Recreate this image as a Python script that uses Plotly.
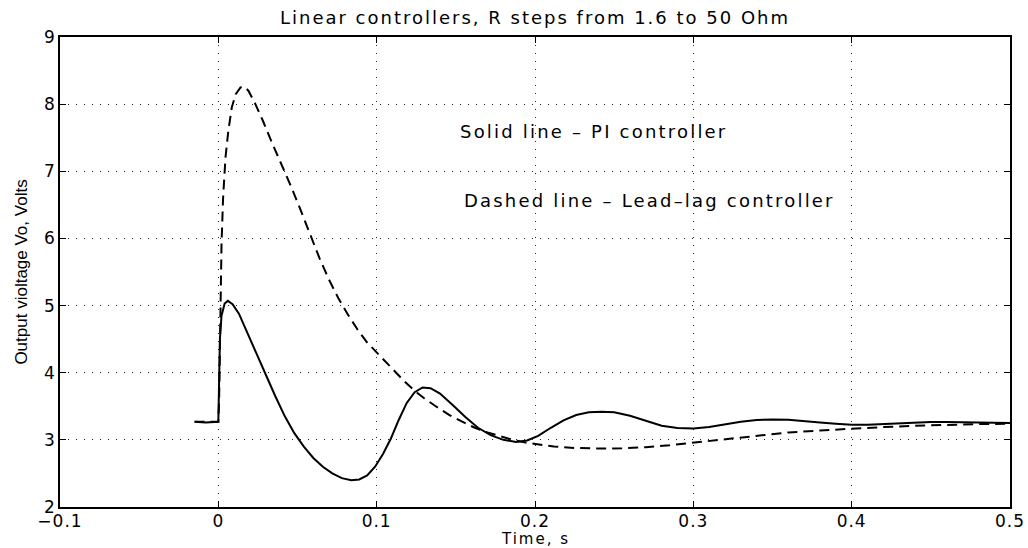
import plotly.graph_objects as go

# Solid line - PI controller
t_pi = [-0.015, -0.008, 0.0, 0.0005, 0.001, 0.002, 0.004, 0.006, 0.009, 0.013,
        0.018, 0.024, 0.030, 0.036, 0.042, 0.048, 0.054, 0.060, 0.066, 0.072,
        0.078, 0.084, 0.089, 0.094, 0.099, 0.104, 0.109, 0.114, 0.119, 0.124,
        0.129, 0.134, 0.140, 0.148, 0.156, 0.164, 0.172, 0.180, 0.188, 0.195,
        0.202, 0.210, 0.218, 0.226, 0.234, 0.242, 0.250, 0.260, 0.270, 0.280,
        0.290, 0.300, 0.310, 0.320, 0.330, 0.340, 0.350, 0.360, 0.370, 0.380,
        0.390, 0.400, 0.410, 0.420, 0.430, 0.440, 0.450, 0.460, 0.470, 0.480,
        0.490, 0.500]
v_pi = [3.27, 3.26, 3.27, 3.9, 4.5, 4.85, 5.03, 5.07, 5.02, 4.88,
        4.62, 4.30, 3.97, 3.65, 3.35, 3.10, 2.90, 2.73, 2.60, 2.50,
        2.43, 2.40, 2.41, 2.47, 2.60, 2.79, 3.02, 3.30, 3.55, 3.71,
        3.78, 3.77, 3.69, 3.52, 3.34, 3.18, 3.07, 3.00, 2.97, 2.99,
        3.06, 3.18, 3.29, 3.37, 3.41, 3.42, 3.41, 3.36, 3.28, 3.21,
        3.175, 3.17, 3.19, 3.23, 3.27, 3.295, 3.305, 3.30, 3.285, 3.26,
        3.24, 3.225, 3.225, 3.235, 3.25, 3.26, 3.265, 3.265, 3.26, 3.255,
        3.25, 3.25]

# Dashed line - Lead-lag controller
t_ll = [-0.015, 0.0, 0.0005, 0.001, 0.0015, 0.002, 0.003, 0.0045, 0.0063, 0.0085,
        0.011, 0.014, 0.0165, 0.019, 0.023, 0.028, 0.034, 0.040, 0.046, 0.052,
        0.058, 0.064, 0.070, 0.076, 0.082, 0.088, 0.094, 0.100, 0.106, 0.112,
        0.118, 0.124, 0.130, 0.138, 0.146, 0.154, 0.162, 0.170, 0.178, 0.186,
        0.194, 0.202, 0.212, 0.225, 0.240, 0.255, 0.270, 0.285, 0.300, 0.320,
        0.340, 0.360, 0.380, 0.400, 0.420, 0.440, 0.460, 0.480, 0.500]
v_ll = [3.27, 3.27, 3.6, 4.3, 5.2, 5.9, 6.6, 7.2, 7.6, 7.95,
        8.15, 8.25, 8.26, 8.2, 8.02, 7.76, 7.42, 7.10, 6.77, 6.42,
        6.05, 5.70, 5.38, 5.10, 4.86, 4.64, 4.45, 4.30, 4.15, 4.00,
        3.86, 3.73, 3.62, 3.49, 3.37, 3.27, 3.18, 3.11, 3.05, 3.00,
        2.96, 2.93, 2.90, 2.88, 2.87, 2.875, 2.89, 2.92, 2.96, 3.01,
        3.06, 3.11, 3.14, 3.17, 3.19, 3.21, 3.225, 3.235, 3.24]

x_ticks = [-0.1, 0, 0.1, 0.2, 0.3, 0.4, 0.5]
x_tick_labels = ["\u22120.1", "0", "0.1", "0.2", "0.3", "0.4", "0.5"]
y_ticks = [2, 3, 4, 5, 6, 7, 8, 9]
y_tick_labels = ["2", "3", "4", "5", "6", "7", "8", "9"]

WIDE = "DejaVu Sans, Verdana, sans-serif"
NARROW = "Liberation Sans Narrow, Arial Narrow, Liberation Sans, sans-serif"

W, H = 1028, 548
ML, MR, MT, MB = 60, 18, 37, 41
PLOT_H = H - MT - MB


def spaced(s, px):
    return '<span style="letter-spacing:%spx">%s</span>' % (px, s)


fig = go.Figure()
fig.add_trace(go.Scatter(x=t_pi, y=v_pi, mode="lines",
                         line=dict(color="black", width=2, dash="solid"),
                         showlegend=False))
fig.add_trace(go.Scatter(x=t_ll, y=v_ll, mode="lines",
                         line=dict(color="black", width=2, dash="10px,6px"),
                         showlegend=False))

axis_common = dict(
    showline=True, linecolor="black", linewidth=1.5, mirror="ticks",
    ticks="inside", ticklen=6, tickcolor="black", tickwidth=1,
    showgrid=True, gridcolor="#222222", gridwidth=1, griddash="1px,7px",
    zeroline=False, automargin=False,
    tickfont=dict(family=WIDE, size=17, color="black"),
)

fig.update_layout(
    width=W, height=H,
    margin=dict(l=ML, r=MR, t=MT, b=MB, autoexpand=False),
    paper_bgcolor="white", plot_bgcolor="white",
    font=dict(family=WIDE, color="black"),
    title=dict(text=spaced("Linear controllers, R steps from 1.6 to 50 Ohm", 2),
               x=0.5, xref="paper", xanchor="center",
               y=1 - 18 / H, yref="container", yanchor="middle",
               font=dict(family=WIDE, size=18, color="black")),
    xaxis=dict(range=[-0.1, 0.5], tickvals=x_ticks,
               ticktext=[spaced(s, 1) for s in x_tick_labels],
               ticklabelstandoff=-2,
               **axis_common),
    yaxis=dict(range=[2, 9], tickvals=y_ticks,
               ticktext=y_tick_labels,
               title=dict(text="Output violtage Vo, Volts", standoff=12,
                          font=dict(family=NARROW, size=17, color="black")),
               **axis_common),
    annotations=[
        dict(x=0.5, y=-(538.5 - (H - MB)) / PLOT_H, xref="paper", yref="paper",
             xanchor="center", yanchor="middle", borderpad=0,
             text=spaced("Time, s", 2), showarrow=False,
             font=dict(family=WIDE, size=15, color="black")),
        dict(x=0.1515, y=7.59, xref="x", yref="y", xanchor="left", yanchor="middle",
             text=spaced("Solid line \u2013 PI controller", 2.2), showarrow=False,
             font=dict(family=WIDE, size=18, color="black")),
        dict(x=0.154, y=6.57, xref="x", yref="y", xanchor="left", yanchor="middle",
             text=spaced("Dashed line \u2013 Lead\u2013lag controller", 2.2), showarrow=False,
             font=dict(family=WIDE, size=18, color="black")),
    ],
)

fig.write_html("out.html")
